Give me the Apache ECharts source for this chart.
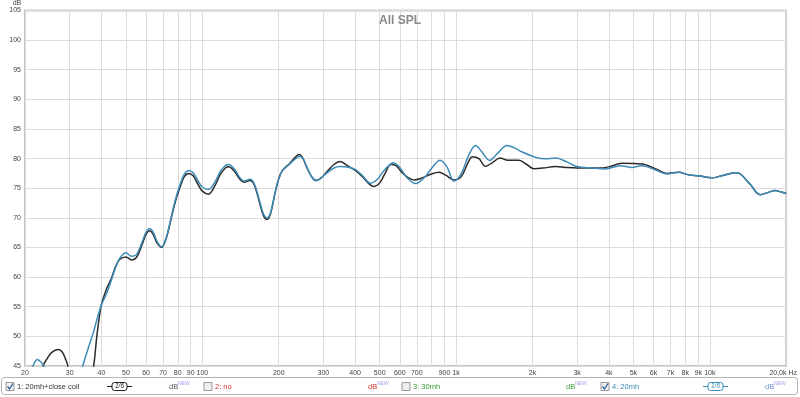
<!DOCTYPE html>
<html>
<head>
<meta charset="utf-8">
<script src="https://cdn.jsdelivr.net/npm/echarts@6/dist/echarts.min.js"></script>
<style>html,body{margin:0;padding:0;background:#fff}#c{width:800px;height:397px}</style>
</head>
<body>
<div id="c"></div>
<script>
// x-axis tick frequencies (Hz) and their labels
const freqTicks = [20,30,40,50,60,70,80,90,100,200,300,400,500,600,700,800,900,1000,2000,3000,4000,5000,6000,7000,8000,9000,10000,20000];
const tickLabels = ['20','30','40','50','60','70','80','90','100','200','300','400','500','600','700','','900','1k','2k','3k','4k','5k','6k','7k','8k','9k','10k','20,0k Hz'];

// Series 1: "1: 20mh+close coil"  [frequency Hz, SPL dB]
const spl20mhCloseCoil = [[20,38],[22,36],[23,41],[23.6,45],[24.5,46.3],[25.5,47.3],[27,47.8],[28,47.4],[29,46.0],[29.5,45],[31,38],[34,34],[37.3,45],[38.5,50.5],[40,55.3],[41.9,58],[43.8,59.8],[45.5,61.8],[47.3,63.0],[50,63.4],[52.6,62.9],[55,63.3],[58,65.6],[60,67.2],[62,67.8],[64,67.2],[66,65.9],[69,65.0],[72,66.5],[75,69.5],[78,72.5],[81.4,75.0],[85,77.0],[88.6,77.5],[92,77.1],[96,75.7],[100,74.5],[105.8,74.0],[112,75.4],[118,77.4],[124,78.5],[127,78.6],[134,77.8],[140,76.6],[146,76.0],[154,76.3],[160,75.6],[168,72.6],[174,70.4],[180,69.7],[186,70.8],[193,74.0],[200,76.6],[207,78.0],[220,79.1],[232,80.2],[240,80.7],[248,80.2],[258,78.5],[270,76.9],[281,76.3],[295,76.8],[310,77.8],[330,79.0],[349,79.5],[370,78.9],[403,77.9],[430,76.8],[455,75.7],[475,75.3],[500,75.9],[525,77.5],[553,79.0],[580,78.8],[620,77.4],[684,76.4],[730,76.7],[800,77.4],[857,77.7],[910,77.2],[982,76.4],[1050,77.0],[1120,79.5],[1159,80.3],[1230,80.0],[1306,78.7],[1400,79.4],[1489,80.1],[1600,79.7],[1768,79.7],[1900,79.0],[2025,78.3],[2200,78.4],[2466,78.65],[2700,78.5],[3000,78.4],[3650,78.4],[4000,78.6],[4508,79.2],[5400,79.1],[6095,78.3],[6770,77.5],[7530,77.7],[8245,77.25],[9040,77.1],[10180,76.75],[11150,77.1],[12580,77.6],[13200,77.4],[14400,75.7],[15800,73.9],[17000,74.3],[18070,74.6],[19000,74.4],[20000,74.1]];

// Series 4: "4: 20mh"  [frequency Hz, SPL dB]
const spl20mh = [[20,41],[21,43.5],[21.5,45],[22.4,46.1],[23.2,45.6],[23.7,45],[24.5,42],[27,36],[30,36],[32,41],[33.8,45],[35.5,48],[37.1,50.5],[38.5,53],[40,55.3],[41.9,57.2],[43.8,59.5],[45.5,61.6],[47.3,63.2],[50,64.1],[52.6,63.5],[55,63.8],[58,66],[60,67.6],[62,68.2],[64,67.6],[66,66.2],[69,65.1],[72,66.6],[75,69.7],[78,72.8],[81.4,75.4],[85,77.4],[88.6,78.0],[92,77.6],[96,76.3],[100,75.2],[105.8,74.8],[112,76],[118,77.9],[124,78.9],[127,79.0],[134,78.2],[140,76.9],[146,76.2],[154,76.5],[160,75.8],[168,72.9],[174,70.7],[180,70.0],[186,71.0],[193,74.0],[200,76.6],[207,78.0],[220,79.0],[232,79.9],[242,80.4],[250,79.9],[260,78.3],[270,76.9],[281,76.3],[295,76.8],[310,77.6],[330,78.4],[349,78.65],[380,78.5],[403,78.1],[430,77.0],[460,75.85],[490,76.5],[520,78.0],[553,79.1],[565,79.3],[600,78.5],[640,76.8],[693,75.8],[750,76.8],[810,78.6],[865,79.7],[920,78.6],[982,76.2],[1050,77.5],[1120,80.5],[1194,82.2],[1260,81.2],[1356,79.7],[1450,80.8],[1589,82.2],[1700,81.8],[1824,81.1],[2060,80.2],[2252,79.95],[2466,80.1],[2742,79.4],[3000,78.65],[3435,78.4],[3877,78.25],[4442,78.8],[4934,78.5],[5400,78.8],[6095,78.1],[6770,77.4],[7530,77.7],[8245,77.25],[9040,77.1],[10180,76.75],[11150,77.1],[12580,77.6],[13200,77.4],[14400,75.7],[15800,73.9],[17000,74.3],[18070,74.6],[19000,74.4],[20000,74.1]];

const legendNames = ['1: 20mh+close coil','2: no','3: 30mh','4: 20mh'];

const FONT = '"Liberation Sans", Arial, sans-serif';

function labelFor(v){
  let best = 0, bd = Infinity;
  for (let i = 0; i < freqTicks.length; i++) {
    const d = Math.abs(Math.log10(v) - Math.log10(freqTicks[i]));
    if (d < bd) { bd = d; best = i; }
  }
  const t = tickLabels[best];
  if (best === freqTicks.length - 1) return '{r|' + t + '}';
  return t;
}

function checkbox(x, y, checked){
  const els = [{type:'rect', shape:{x:x, y:y, width:8, height:8}, style:{fill:'#eeeeee', stroke:'#9a9a9a', lineWidth:1}}];
  if (checked) els.push({type:'polyline', shape:{points:[[x+1.5,y+4],[x+3.5,y+6.5],[x+7,y+1]]}, style:{stroke:'#2f5f9a', lineWidth:1.3, fill:null}});
  return els;
}
function txt(x, y, s, color, size){
  return {type:'text', x:x, y:y, style:{text:s, fill:color, font:(size||7.5)+'px '+FONT, verticalAlign:'middle', align:'left'}};
}
function smoothIcon(x, y, color){
  return [
    {type:'line', shape:{x1:x, y1:y, x2:x+5, y2:y}, style:{stroke:color, lineWidth:1}},
    {type:'rect', shape:{x:x+5, y:y-4, width:15, height:8, r:2.5}, style:{fill:'#fff', stroke:color, lineWidth:1}},
    {type:'text', x:x+12.5, y:y, style:{text:'1/6', fill:color, font:'italic 6.5px '+FONT, align:'center', verticalAlign:'middle'}},
    {type:'line', shape:{x1:x+20, y1:y, x2:x+25, y2:y}, style:{stroke:color, lineWidth:1}}
  ];
}
function dbNew(x, y, color){
  return [txt(x, y, 'dB', color, 7.5), {type:'text', x:x+9, y:y-5, style:{text:'NEW', fill:'#a0a0ee', font:'5px '+FONT, verticalAlign:'top'}}];
}

const LY = 386.5;
const graphics = [].concat(
  [{type:'rect', shape:{x:1.5, y:377.5, width:796, height:17, r:3}, style:{fill:'#fff', stroke:'#b4b4b4', lineWidth:1}}],
  checkbox(6, 382.5, true), [txt(17, LY, legendNames[0], '#333333')], smoothIcon(107, LY, '#222222'), dbNew(169, LY, '#555555'),
  checkbox(204, 382.5, false), [txt(215, LY, legendNames[1], '#cc3333')], dbNew(368, LY, '#cc3333'),
  checkbox(402, 382.5, false), [txt(413, LY, legendNames[2], '#3a9a3a')], dbNew(566, LY, '#3a9a3a'),
  checkbox(601, 382.5, true), [txt(612, LY, legendNames[3], '#3b8bb5')], smoothIcon(703, LY, '#3b8bb5'), dbNew(765, LY, '#6b8fd0')
);

const chart = echarts.init(document.getElementById('c'), null, {renderer:'canvas'});
chart.setOption({
  animation: false,
  backgroundColor: '#ffffff',
  title: {text:'All SPL', left:'center', top:10, textStyle:{fontSize:12, fontWeight:'bold', color:'#8a8a8a', fontFamily:FONT}},
  grid: {left:25, right:12, top:9, bottom:31, show:true, borderColor:'#c6c6c6', borderWidth:2, backgroundColor:'transparent'},
  xAxis: {
    type:'log', logBase:10, min:20, max:20000,
    axisLine:{show:false},
    axisTick:{show:false, customValues:freqTicks},
    axisLabel:{customValues:freqTicks, formatter:labelFor, fontSize:7, color:'#444', fontFamily:FONT, margin:4,
      rich:{r:{fontSize:7, color:'#444', fontFamily:FONT, padding:[0,6,0,0]}}},
    splitLine:{show:true, lineStyle:{color:'#dcdcdc', width:1}}
  },
  yAxis: {
    type:'value', min:45, max:105, interval:5,
    name:'dB', nameLocation:'end', nameGap:1,
    nameTextStyle:{fontSize:7, color:'#444', fontFamily:FONT, padding:[0,16,0,0]},
    axisLine:{show:false}, axisTick:{show:false},
    axisLabel:{fontSize:7, color:'#444', fontFamily:FONT, margin:4},
    splitLine:{show:true, lineStyle:{color:'#dcdcdc', width:1}}
  },
  series: [
    {name:legendNames[0], type:'line', data:spl20mhCloseCoil, showSymbol:false, smooth:0.35, clip:true, z:3,
     lineStyle:{color:'#2b2b2b', width:1.5}},
    {name:legendNames[3], type:'line', data:spl20mh, showSymbol:false, smooth:0.35, clip:true, z:4,
     lineStyle:{color:'#3d8bb8', width:1.5}}
  ],
  graphic: graphics
});
</script>
</body>
</html>
